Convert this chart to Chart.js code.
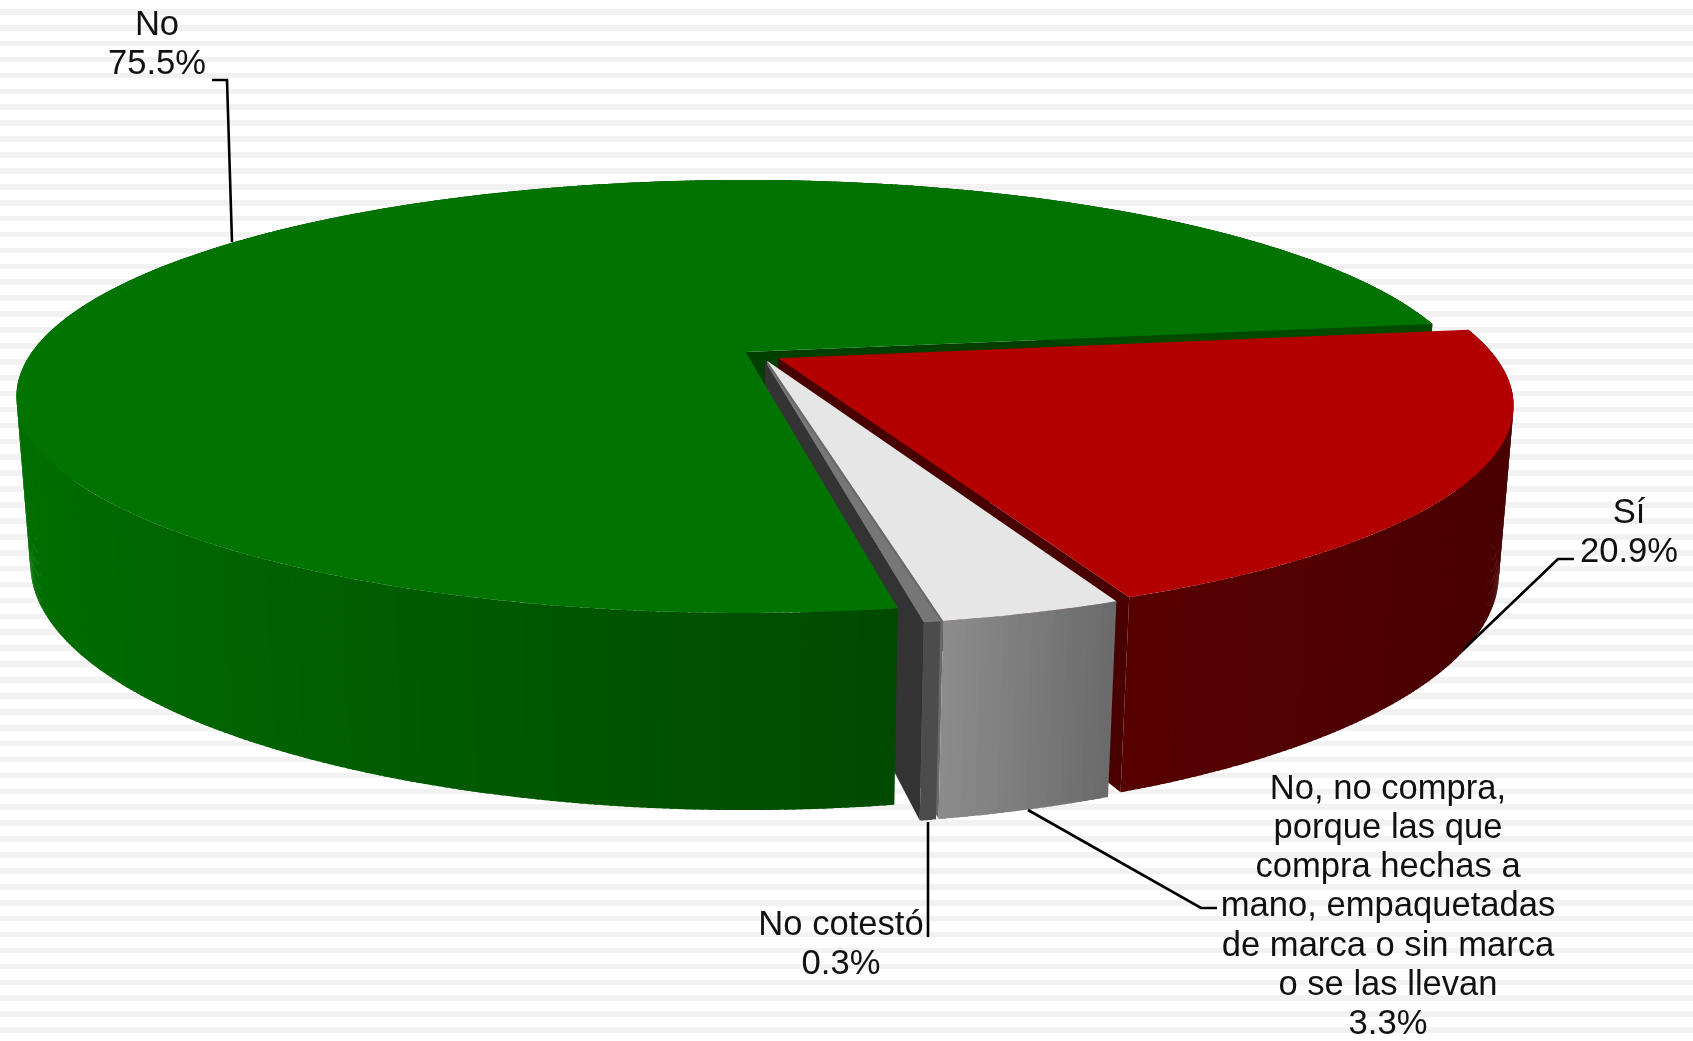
<!DOCTYPE html>
<html>
<head>
<meta charset="utf-8">
<title>Pie 3D</title>
<script src="https://cdn.jsdelivr.net/npm/chart.js@4/dist/chart.umd.min.js"></script>
<style>
html,body{margin:0;padding:0;width:1693px;height:1041px;overflow:hidden;background:#fff}
#bg{position:absolute;left:0;top:9px;width:1693px;height:1032px;
  background-image:repeating-linear-gradient(to bottom,#f2f2f2 0,#f2f2f2 5.6px,#fff 5.6px,#fff 15.91px)}
canvas{position:absolute;left:0;top:0}
</style>
</head>
<body>
<div id="bg"></div>
<canvas id="c" width="1693" height="1041"></canvas>
<script>
const categories = ["Sí", "No, no compra, porque las que compra hechas a mano, empaquetadas de marca o sin marca o se las llevan", "No cotestó", "No"];
const values = [20.9, 3.3, 0.3, 75.5];
const topColors = ["#b30000", "#e6e6e6", "#777777", "#007300"];
const radialColors = ["#490000", "#6a6a6a", "#333333", "#003f00"];
const wallColorsLight = ["#480000", "#6a6a6a", "#4c4c4c", "#004a00"];
const wallColorsDark = ["#570000", "#8c8c8c", "#4c4c4c", "#007000"];
const labelLines = [
  ["Sí"],
  ["No, no compra,", "porque las que", "compra hechas a", "mano, empaquetadas", "de marca o sin marca", "o se las llevan"],
  ["No cotestó"],
  ["No"]
];
const labelAnchors = [[1629, 513], [1388, 789], [841, 925], [157, 25]];
const labelSpacing = [39.6, 39.3, 39.6, 39.6];
const leaderPaths = [
  [[1463, 650], [1558, 559], [1574, 559]],
  [[1028, 810], [1201, 908], [1217, 908]],
  [[928, 822], [928, 937]],
  [[232, 242], [227, 80], [212, 80]]
];
const explodePx = 14;
const rotationDeg = 82.0;

/* Perspective of the pie plane: top face and bottom face */
const view = {
  x0: 745.5, yh: -657,
  top: {A: 713.5, k: 0.2055, C: 1009},
  bot: {A: 700.5, k: 0.2018, C: 1171}
};
function project(u, v, lvl) {
  const d = 1 - lvl.k * v;
  return [view.x0 + lvl.A * u / d, view.yh + lvl.C / d];
}
function hex(c){return [1,3,5].map(i=>parseInt(c.substr(i,2),16));}
function mix(a,b,t){
  t=Math.max(0,Math.min(1,t));
  const p=hex(a),q=hex(b);
  return 'rgb('+p.map((x,i)=>Math.round(x+(q[i]-x)*t)).join(',')+')';
}
function area(pts){
  let s=0;
  pts.forEach((p,i)=>{const q=pts[(i+1)%pts.length];s+=p[0]*q[1]-q[0]*p[1];});
  return s;
}

const pie3d = {
  id: 'pie3d',
  beforeDatasetsDraw(chart) {
    const ctx = chart.ctx;
    const arcs = chart.getDatasetMeta(0).data;
    const geo = arcs.map((arc, i) => {
      const mid = (arc.startAngle + arc.endAngle) / 2;
      const e = arc.options.offset / arc.outerRadius;
      return {i, a: arc.startAngle, b: arc.endAngle, mid,
        ox: e * Math.cos(mid), oy: e * Math.sin(mid)};
    });
    const biggest = geo.reduce((p, g) => (g.b - g.a > p.b - p.a ? g : p));
    const gx = biggest.ox, gy = biggest.oy;
    const order = geo.slice().sort((p, q) => Math.sin(p.mid) - Math.sin(q.mid));
    const poly = (pts, fill) => {
      ctx.beginPath();
      pts.forEach((p, n) => n ? ctx.lineTo(p[0], p[1]) : ctx.moveTo(p[0], p[1]));
      ctx.closePath();
      ctx.fillStyle = fill;
      ctx.fill();
    };
    const helpers = g => {
      const cu = g.ox - gx, cv = g.oy - gy;
      return {
        at: (t, lvl) => project(cu + Math.cos(t), cv + Math.sin(t), lvl),
        apex: lvl => project(cu, cv, lvl)
      };
    };
    /* stage 1: radial walls that face the viewer, farthest slice first */
    order.forEach(g => {
      const {at, apex} = helpers(g);
      [[g.a, -1], [g.b, 1]].forEach(([t, sign]) => {
        const q = [apex(view.top), at(t, view.top), at(t, view.bot), apex(view.bot)];
        if (area(q) * sign > 0) poly(q, radialColors[g.i]);
      });
    });
    /* stage 2: outer wall as narrow shaded strips (back to front), then the top face */
    order.forEach(g => {
      const {at, apex} = helpers(g);
      const n = Math.max(4, Math.ceil((g.b - g.a) / (Math.PI / 180) * 2));
      const cosA = Math.cos(g.a), cosB = Math.cos(g.b);
      const cLo = g === biggest ? -1 : Math.min(cosA, cosB);
      const cHi = g === biggest ? 0.17 : Math.max(cosA, cosB);
      const strips = [];
      for (let s = 0; s < n; s++) {
        const t0 = g.a + (g.b - g.a) * s / n;
        const tm = Math.min(g.a + (g.b - g.a) * (s + 1.6) / n, g.b);
        strips.push([t0, tm]);
      }
      strips.sort((p, q) => Math.sin((p[0] + p[1]) / 2) - Math.sin((q[0] + q[1]) / 2));
      strips.forEach(([t0, tm]) => {
        const shade = (cHi - Math.cos((t0 + tm) / 2)) / (cHi - cLo || 1);
        poly([at(t0, view.top), at(tm, view.top), at(tm, view.bot), at(t0, view.bot)],
          mix(wallColorsLight[g.i], wallColorsDark[g.i], shade));
      });
      const pts = [apex(view.top)];
      const m = Math.ceil((g.b - g.a) / (Math.PI / 180));
      for (let s = 0; s <= m; s++) pts.push(at(g.a + (g.b - g.a) * s / m, view.top));
      poly(pts, topColors[g.i]);
    });
    return false;
  },
  afterDraw(chart) {
    const ctx = chart.ctx;
    ctx.save();
    ctx.strokeStyle = '#000';
    ctx.lineWidth = 2.6;
    leaderPaths.forEach(path => {
      ctx.beginPath();
      path.forEach((p, n) => n ? ctx.lineTo(p[0], p[1]) : ctx.moveTo(p[0], p[1]));
      ctx.stroke();
    });
    ctx.fillStyle = '#111';
    ctx.font = '34.6px "Liberation Sans", Arial, sans-serif';
    ctx.textAlign = 'center';
    ctx.textBaseline = 'middle';
    labelLines.forEach((lines, i) => {
      const all = lines.concat([values[i].toFixed(1) + '%']);
      const [x, y] = labelAnchors[i];
      all.forEach((t, n) => ctx.fillText(t, x, y + n * labelSpacing[i]));
    });
    ctx.restore();
  }
};

new Chart(document.getElementById('c'), {
  type: 'pie',
  data: {
    labels: categories,
    datasets: [{
      data: values,
      backgroundColor: topColors,
      borderWidth: 0,
      offset: explodePx
    }]
  },
  options: {
    responsive: false,
    animation: false,
    rotation: rotationDeg,
    layout: {padding: 0},
    plugins: {legend: {display: false}, tooltip: {enabled: false}}
  },
  plugins: [pie3d]
});
</script>
</body>
</html>
